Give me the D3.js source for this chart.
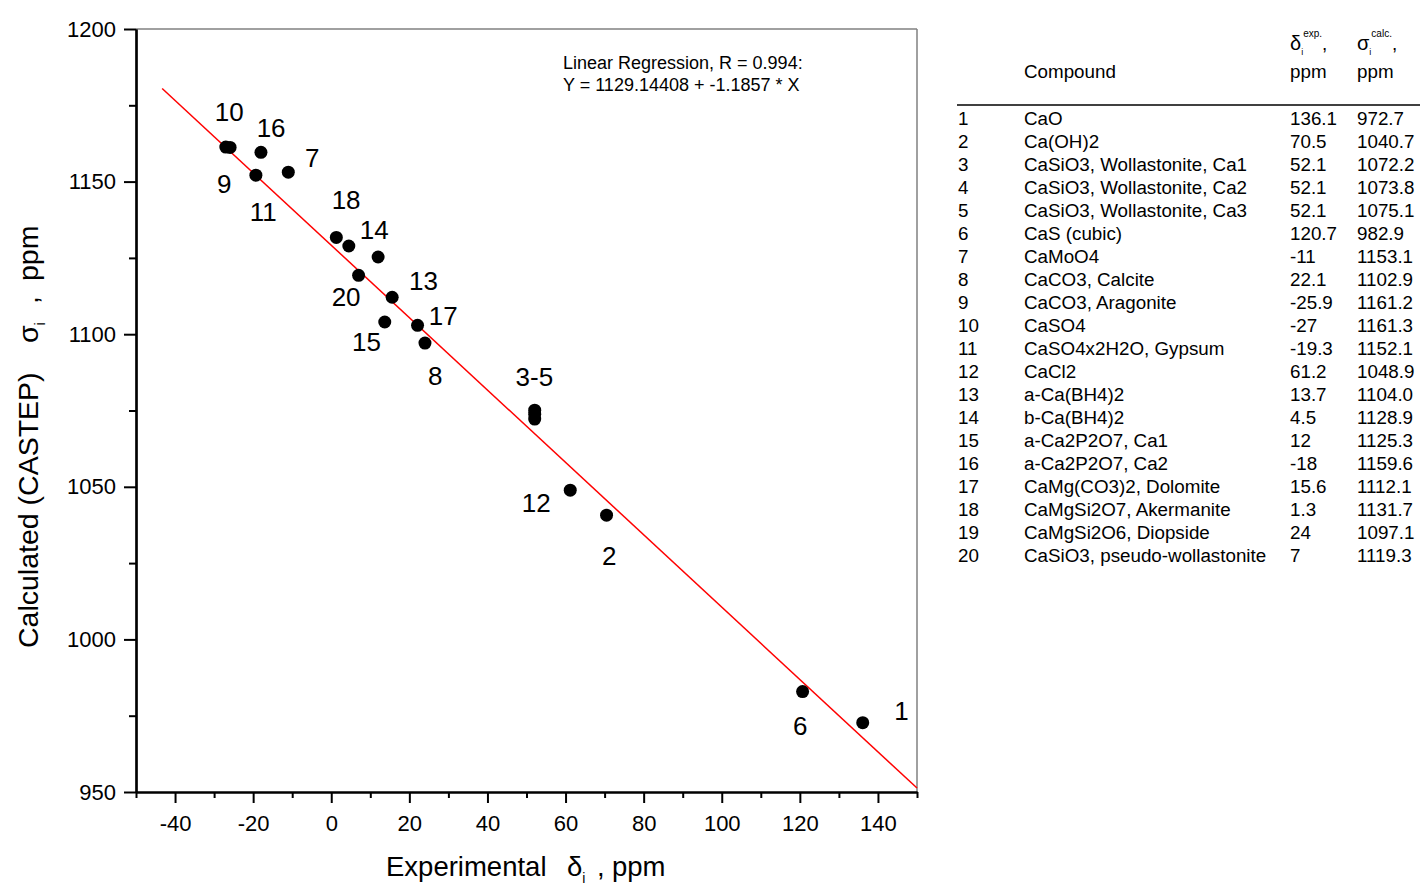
<!DOCTYPE html>
<html>
<head>
<meta charset="utf-8">
<script src="https://cdn.jsdelivr.net/npm/d3@7"></script>
<style>
  body { margin: 0; background: #fff; }
  svg { display: block; font-family: "Liberation Sans", Arial, sans-serif; }
</style>
</head>
<body>
<svg id="chart" width="1420" height="886"></svg>
<script>
// Compound table (index, name, experimental delta, calculated sigma)
const ids = [1, 2, 3, 4, 5, 6, 7, 8, 9, 10, 11, 12, 13, 14, 15, 16, 17, 18, 19, 20];
const compounds = [
	"CaO", "Ca(OH)2", "CaSiO3, Wollastonite, Ca1", "CaSiO3, Wollastonite, Ca2",
	"CaSiO3, Wollastonite, Ca3", "CaS (cubic)", "CaMoO4", "CaCO3, Calcite",
	"CaCO3, Aragonite", "CaSO4", "CaSO4x2H2O, Gypsum", "CaCl2", "a-Ca(BH4)2",
	"b-Ca(BH4)2", "a-Ca2P2O7, Ca1", "a-Ca2P2O7, Ca2", "CaMg(CO3)2, Dolomite",
	"CaMgSi2O7, Akermanite", "CaMgSi2O6, Diopside", "CaSiO3, pseudo-wollastonite"
];
const expLabels = ["136.1", "70.5", "52.1", "52.1", "52.1", "120.7", "-11", "22.1", "-25.9", "-27",
	"-19.3", "61.2", "13.7", "4.5", "12", "-18", "15.6", "1.3", "24", "7"];
const calcLabels = ["972.7", "1040.7", "1072.2", "1073.8", "1075.1", "982.9", "1153.1", "1102.9", "1161.2", "1161.3",
	"1152.1", "1048.9", "1104.0", "1128.9", "1125.3", "1159.6", "1112.1", "1131.7", "1097.1", "1119.3"];
const expValues = expLabels.map(Number);
const calcValues = calcLabels.map(Number);

// Point annotations (text, x, y in data units)
const pointLabels = [
	["10", -26.1, 1172.8], ["16", -15.4, 1167.6], ["7", -4.9, 1157.7], ["9", -27.4, 1149.2],
	["11", -17.4, 1140.0], ["18", 3.8, 1144.0], ["14", 11.0, 1134.1], ["13", 23.6, 1117.4],
	["20", 3.8, 1112.2], ["17", 28.7, 1106.0], ["15", 9.0, 1097.4], ["8", 26.6, 1086.3],
	["3-5", 52.0, 1086.0], ["12", 52.5, 1044.7], ["2", 71.2, 1027.6], ["6", 120.1, 971.6],
	["1", 146.0, 976.5]
];

// Linear fit
const fitIntercept = 1129.14408;
const fitSlope = -1.1857;
const fitRange = [-43.3, 150];

const xMajor = [-40, -20, 0, 20, 40, 60, 80, 100, 120, 140];
const xMinor = [-50, -30, -10, 10, 30, 50, 70, 90, 110, 130, 150];
const yMajor = [950, 1000, 1050, 1100, 1150, 1200];
const yMinor = [975, 1025, 1075, 1125, 1175];

const margin = { top: 29, left: 136 };
const width = 781;
const height = 763;

const svg = d3.select("#chart");
const g = svg.append("g").attr("transform", `translate(${margin.left},${margin.top})`);

const x = d3.scaleLinear().domain([-50, 150]).range([0, width]);
const y = d3.scaleLinear().domain([950, 1200]).range([height, 0]);

// frame (top / right)
g.append("line").attr("x1", 0).attr("x2", width).attr("y1", 0).attr("y2", 0)
	.attr("stroke", "#808080").attr("stroke-width", 1.5);
g.append("line").attr("x1", width).attr("x2", width).attr("y1", 0).attr("y2", height)
	.attr("stroke", "#808080").attr("stroke-width", 1.5);

// axes
function styleAxis(sel) {
	sel.select(".domain").attr("stroke", "#000").attr("stroke-width", 2.2);
	sel.selectAll(".tick line").attr("stroke", "#000").attr("stroke-width", 2);
	sel.selectAll(".tick text").attr("fill", "#000").style("font-size", "22px");
}
const plain = d => String(d);

g.append("g").attr("transform", `translate(0,${height})`)
	.call(d3.axisBottom(x).tickValues(xMinor).tickSize(6).tickSizeOuter(0).tickFormat(""))
	.call(styleAxis);
g.append("g").attr("transform", `translate(0,${height})`)
	.call(d3.axisBottom(x).tickValues(xMajor).tickSize(11).tickSizeOuter(0).tickPadding(12).tickFormat(plain))
	.call(styleAxis);

g.append("g")
	.call(d3.axisLeft(y).tickValues(yMinor).tickSize(7).tickSizeOuter(0).tickFormat(""))
	.call(styleAxis);
g.append("g")
	.call(d3.axisLeft(y).tickValues(yMajor).tickSize(12).tickSizeOuter(0).tickPadding(8).tickFormat(plain))
	.call(styleAxis);

// regression line
const line = d3.line().x(d => x(d)).y(d => y(fitIntercept + fitSlope * d));
g.append("path").datum(fitRange).attr("d", line)
	.attr("fill", "none").attr("stroke", "#ff0000").attr("stroke-width", 1.5);

// points
g.selectAll("circle.pt").data(ids).enter().append("circle")
	.attr("class", "pt")
	.attr("cx", (d, i) => x(expValues[i]))
	.attr("cy", (d, i) => y(calcValues[i]))
	.attr("r", 6.5)
	.attr("fill", "#000");

// point labels
g.selectAll("text.plab").data(pointLabels).enter().append("text")
	.attr("class", "plab")
	.attr("x", d => x(d[1]))
	.attr("y", d => y(d[2]))
	.attr("dy", "0.36em")
	.attr("text-anchor", "middle")
	.style("font-size", "26px")
	.text(d => d[0]);

// regression text
const reg = g.append("text").attr("y", 40).style("font-size", "18px");
reg.append("tspan").attr("x", 427).text("Linear Regression, R = 0.994:");
reg.append("tspan").attr("x", 427).attr("dy", 22).text(`Y = ${fitIntercept} + ${fitSlope} * X`);

// axis titles
const xt = svg.append("text").attr("y", 876).style("font-size", "27.5px");
xt.append("tspan").attr("x", 386).text("Experimental");
xt.append("tspan").attr("x", 567).text("δ");
xt.append("tspan").attr("dy", 7).style("font-size", "14px").text("i");
xt.append("tspan").attr("dy", -7).attr("x", 597).text(",");
xt.append("tspan").attr("x", 612).text("ppm");

const yt = svg.append("text").attr("transform", "translate(38,0) rotate(-90)")
	.style("font-size", "28.5px");
yt.append("tspan").attr("x", -648).text("Calculated (CASTEP)");
yt.append("tspan").attr("x", -343).text("σ");
yt.append("tspan").attr("dy", 7).style("font-size", "14px").text("i");
yt.append("tspan").attr("dy", -7).attr("x", -304).text(",");
yt.append("tspan").attr("x", -281).text("ppm");

// table
const tbl = svg.append("g").style("font-size", "18.8px");
const colX = [958, 1024, 1290, 1357];
const rowY0 = 125;
const rowH = 23;

const h1 = tbl.append("text").attr("x", colX[2]).attr("y", 50);
h1.append("tspan").style("font-size", "20px").text("δ");
h1.append("tspan").attr("dy", 5).style("font-size", "9px").text("i");
h1.append("tspan").attr("dy", -18).style("font-size", "10px").text("exp.");
h1.append("tspan").attr("dy", 13).text(",");
const h2 = tbl.append("text").attr("x", colX[3]).attr("y", 50);
h2.append("tspan").style("font-size", "20px").text("σ");
h2.append("tspan").attr("dy", 5).style("font-size", "9px").text("i");
h2.append("tspan").attr("dy", -18).style("font-size", "10px").text("calc.");
h2.append("tspan").attr("dy", 13).text(",");

tbl.append("text").attr("x", colX[1]).attr("y", 78).text("Compound");
tbl.append("text").attr("x", colX[2]).attr("y", 78).text("ppm");
tbl.append("text").attr("x", colX[3]).attr("y", 78).text("ppm");
tbl.append("line").attr("x1", 957).attr("x2", 1420).attr("y1", 105).attr("y2", 105)
	.attr("stroke", "#000").attr("stroke-width", 1.3);

const rows = tbl.selectAll("g.row").data(ids).enter().append("g")
	.attr("class", "row")
	.attr("transform", (d, i) => `translate(0,${rowY0 + i * rowH})`);
rows.append("text").attr("x", colX[0]).text(d => d);
rows.append("text").attr("x", colX[1]).text((d, i) => compounds[i]);
rows.append("text").attr("x", colX[2]).text((d, i) => expLabels[i]);
rows.append("text").attr("x", colX[3]).text((d, i) => calcLabels[i]);
</script>
</body>
</html>
